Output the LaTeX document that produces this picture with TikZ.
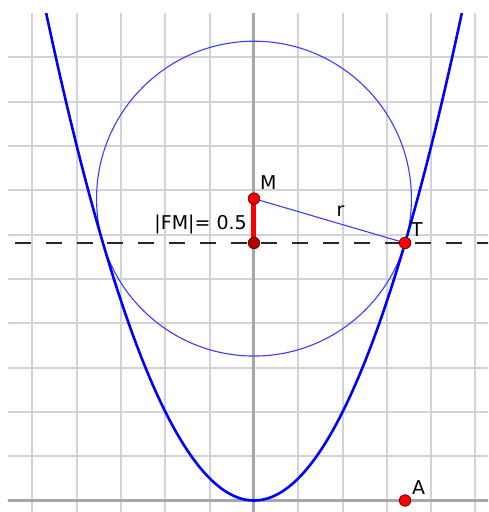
\documentclass[tikz,border=0pt]{standalone}
\usepackage{fontspec}
\setmainfont{DejaVu Sans}
\definecolor{gridc}{RGB}{208,211,218}
\definecolor{axisc}{RGB}{165,167,175}
\definecolor{circc}{RGB}{60,60,255}
\definecolor{ptedge}{RGB}{110,0,0}
\definecolor{fdark}{RGB}{175,0,0}
\definecolor{dashc}{RGB}{40,40,40}
\begin{document}
\begin{tikzpicture}[x=88.6pt,y=88.6pt,
  gridline/.style={draw=gridc, line width=2pt},
  axisline/.style={draw=axisc, line width=3pt},
  circline/.style={draw=circc, line width=1.1pt},
  parab/.style={draw=blue, line width=2.6pt},
  dirline/.style={draw=dashc, line width=1.2pt, dash pattern=on 16pt off 14.8pt, dash phase=23.8pt},
  radline/.style={draw=circc, line width=1.1pt},
  fmline/.style={draw=red, line width=5pt},
  ptnode/.style={circle, inner sep=0pt, minimum size=11.5pt, draw=ptedge, line width=0.8pt, fill=red},
  lbl/.style={inner sep=0pt, font=\fontsize{19}{23}\selectfont}]
\pgfmathsetmacro{\tpar}{1.705}
\pgfmathsetmacro{\tq}{\tpar*\tpar}
\pgfmathsetmacro{\rad}{sqrt(\tq+0.25)}
\useasboundingbox (-2.8668,-0.1298) rectangle (2.6411,5.6490);
\fill[white] (-2.8668,-0.1298) rectangle (2.6411,5.6490);
\coordinate (M) at (0,\tq+0.5);
\coordinate (F) at (0,\tq);
\coordinate (T) at (\tpar,\tq);
\coordinate (A) at (\tpar,0);
\coordinate (DL) at (-2.7765,\tq);
\coordinate (DR) at (2.70,\tq);
\begin{scope}
\clip (-2.7765,-0.1298) rectangle (2.6411,5.4910);
\foreach \k in {-5,...,5} \draw[gridline] (\k*0.5,-0.3) -- (\k*0.5,5.7);
\foreach \k in {1,...,10} \draw[gridline] (-2.9,\k*0.5) -- (2.7,\k*0.5);
\draw[axisline] (0,-0.3) -- (0,5.7);
\draw[axisline] (-2.9,0) -- (2.7,0);
\draw[circline] (M) circle (\rad);
\draw[dirline] (DL) -- (DR);
\draw[parab] plot[domain=-2.4:2.4, samples=161, smooth] (\x,{\x*\x});
\end{scope}
\draw[radline] (M) -- (T);
\draw[fmline] (F) -- (M);
\node[ptnode] (Mp) at (M) {};
\node[ptnode, fill=fdark] (Fp) at (F) {};
\node[ptnode] (Tp) at (T) {};
\node[ptnode] (Ap) at (A) {};
\node[lbl, anchor=base west] (Ml) at ([shift={(0.066,0.098)}]M) {M};
\node[lbl, anchor=base west] (Tl) at ([shift={(0.067,0.078)}]T) {T};
\node[lbl, anchor=base west] (Al) at ([shift={(0.078,0.070)}]A) {A};
\node[lbl, anchor=base east] (FMl) at ([shift={(-0.079,0.152)}]F) {|FM|= 0.5};
\node[lbl, anchor=base west] (rl) at ([shift={(0.929,-0.204)}]M) {r};
\end{tikzpicture}
\end{document}
